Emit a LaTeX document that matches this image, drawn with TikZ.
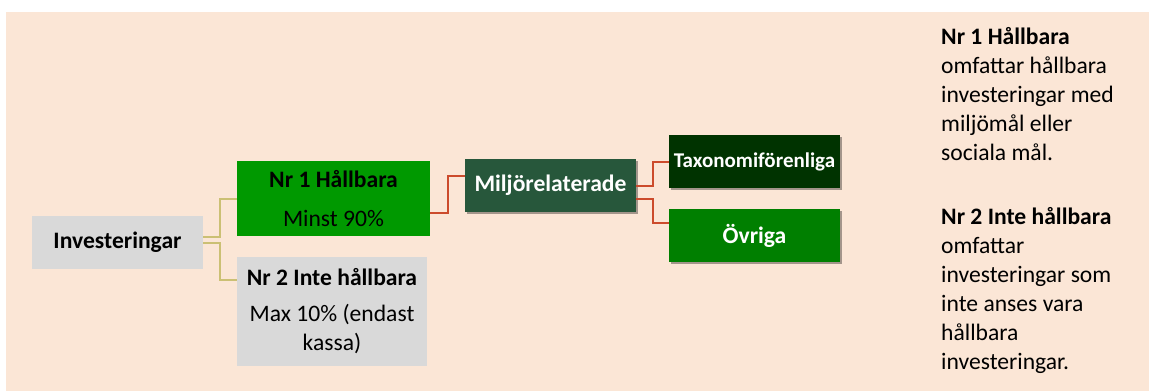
\documentclass[tikz,border=0pt]{standalone}
\usepackage{fontspec}
\setmainfont{Carlito}
\usetikzlibrary{positioning, shadows}
\usepackage{xcolor}
\definecolor{peach}{HTML}{FBE6D6}
\definecolor{boxgrey}{HTML}{D9D9D9}
\definecolor{mainlygreen}{HTML}{009900}
\definecolor{envgreen}{HTML}{27573B}
\definecolor{taxgreen}{HTML}{003300}
\definecolor{restgreen}{HTML}{007F00}
\definecolor{linkyellow}{HTML}{CBC074}
\definecolor{linkred}{HTML}{CC4B2C}

\begin{document}
\begin{tikzpicture}[x=1pt,y=-1pt,font=\fontsize{23.6}{29}\selectfont]
    \tikzstyle{box}=[rectangle,inner sep=0pt,minimum width=171pt,minimum height=53pt,align=center]
    \tikzstyle{grey box}=[box,fill=boxgrey]
    \tikzstyle{dark box}=[box,text=white,font=\fontsize{23.6}{29}\selectfont\bfseries,
        drop shadow={shadow xshift=2pt,shadow yshift=-2pt,opacity=0.35,fill=black}]
    \tikzstyle{link}=[line width=2pt,draw=linkyellow]
    \tikzstyle{red link}=[line width=2pt,draw=linkred]

    \fill[white] (0,0) rectangle (1149,391);
    \useasboundingbox (0,0) rectangle (1149,391);
    \fill[peach] (6,11.5) rectangle (1149,391);

    \node[grey box] (inv) at (117.5,242.5) {\textbf{Investeringar}};
    \node[box,fill=mainlygreen,minimum width=193pt,minimum height=75pt] (hall) at (333.5,198.5)
        {\textbf{Nr 1 Hållbara}\\[10pt]Minst 90\%};
    \node[grey box,minimum width=190pt,minimum height=109pt] (inte) at (332,311.5)
        {\textbf{Nr 2 Inte hållbara}\\[7pt]Max 10\% (endast\\kassa)};

    \node[dark box,fill=envgreen] (milj) at (550.5,185.5) {Miljörelaterade};
    \node[dark box,fill=taxgreen,font=\fontsize{21}{25}\selectfont\bfseries] (taxo) at (754.5,161.5) {Taxonomiförenliga};
    \node[dark box,fill=restgreen] (ovr) at (754.5,235.5) {Övriga};

    \coordinate (inte-in) at ([yshift=-23pt]inte.north west);
    \draw[link] ([yshift=6pt]inv.east) -- ++(17,0) |- (hall.west);
    \draw[link] (inv.east) -- ++(17,0) |- (inte-in);

    \draw[red link] ([yshift=-14.5pt]hall.east) -- ++(18,0) |- ([yshift=9.5pt]milj.west);
    \draw[red link] (milj.east) -- ++(17,0) |- (taxo.west);
    \draw[red link] ([yshift=-13.5pt]milj.east) -- ++(17,0) |- ([yshift=12.5pt]ovr.west);

    \node[anchor=north west,inner sep=0pt,align=left] (note) at (941,27)
        {\textbf{Nr 1 Hållbara}\\omfattar hållbara\\investeringar med\\miljömål eller\\sociala mål.\\[35pt]
         \textbf{Nr 2 Inte hållbara}\\omfattar\\investeringar som\\inte anses vara\\hållbara\\investeringar.};
\end{tikzpicture}
\end{document}
